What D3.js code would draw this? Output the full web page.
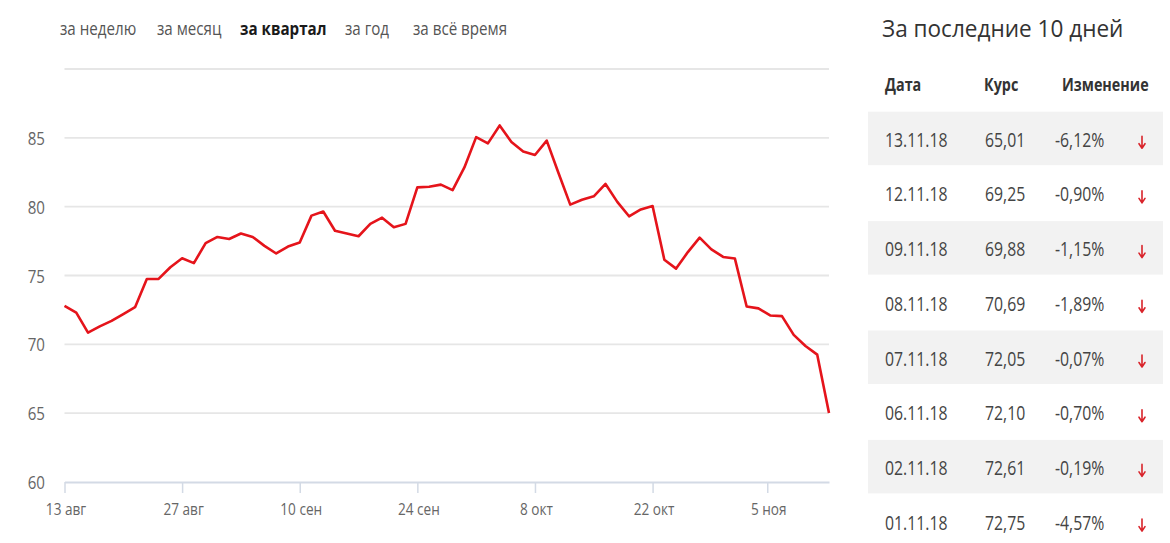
<!DOCTYPE html>
<html>
<head>
<meta charset="utf-8">
<script src="https://cdn.jsdelivr.net/npm/d3@7"></script>
<style>
  html, body { margin: 0; padding: 0; background: #fff; }
  svg { display: block; font-family: "Open Sans", sans-serif; }
</style>
</head>
<body>
<svg id="chart" width="1170" height="543"></svg>
<script>
// ---------- data ----------
const tabs = ["за неделю", "за месяц", "за квартал", "за год", "за всё время"];
const activeTab = "за квартал";

// trading days (weekends and 05.11 holiday skipped)
const dates = [
  "2018-08-13","2018-08-14","2018-08-15","2018-08-16","2018-08-17",
  "2018-08-20","2018-08-21","2018-08-22","2018-08-23","2018-08-24",
  "2018-08-27","2018-08-28","2018-08-29","2018-08-30","2018-08-31",
  "2018-09-03","2018-09-04","2018-09-05","2018-09-06","2018-09-07",
  "2018-09-10","2018-09-11","2018-09-12","2018-09-13","2018-09-14",
  "2018-09-17","2018-09-18","2018-09-19","2018-09-20","2018-09-21",
  "2018-09-24","2018-09-25","2018-09-26","2018-09-27","2018-09-28",
  "2018-10-01","2018-10-02","2018-10-03","2018-10-04","2018-10-05",
  "2018-10-08","2018-10-09","2018-10-10","2018-10-11","2018-10-12",
  "2018-10-15","2018-10-16","2018-10-17","2018-10-18","2018-10-19",
  "2018-10-22","2018-10-23","2018-10-24","2018-10-25","2018-10-26",
  "2018-10-29","2018-10-30","2018-10-31","2018-11-01","2018-11-02",
  "2018-11-06","2018-11-07","2018-11-08","2018-11-09","2018-11-12",
  "2018-11-13"
];
const values = [
  72.8, 72.3, 70.85, 71.3, 71.7,
  72.2, 72.7, 74.75, 74.75, 75.6,
  76.25, 75.9, 77.35, 77.8, 77.65,
  78.05, 77.8, 77.15, 76.6, 77.1,
  77.4, 79.35, 79.65, 78.25, 78.05,
  77.85, 78.75, 79.2, 78.5, 78.75,
  81.4, 81.45, 81.6, 81.2, 82.85,
  85.05, 84.6, 85.9, 84.7, 84.0,
  83.75, 84.8, 82.45, 80.15, 80.5,
  80.75, 81.65, 80.35, 79.3, 79.8,
  80.05, 76.15, 75.5, 76.7, 77.75,
  76.9, 76.35, 76.23, 72.75, 72.61,
  72.10, 72.05, 70.69, 69.88, 69.25,
  65.01
];
const xTickDates = ["2018-08-13","2018-08-27","2018-09-10","2018-09-24","2018-10-08","2018-10-22","2018-11-05"];
const xTickLabels = ["13 авг","27 авг","10 сен","24 сен","8 окт","22 окт","5 ноя"];
const yTicks = [60, 65, 70, 75, 80, 85, 90];
const yLabelTicks = [60, 65, 70, 75, 80, 85];

const tableTitle = "За последние 10 дней";
const tableHeaders = ["Дата", "Курс", "Изменение"];
const tableDates = ["13.11.18","12.11.18","09.11.18","08.11.18","07.11.18","06.11.18","02.11.18","01.11.18"];
const tableRates = ["65,01","69,25","69,88","70,69","72,05","72,10","72,61","72,75"];
const tableChanges = ["-6,12%","-0,90%","-1,15%","-1,89%","-0,07%","-0,70%","-0,19%","-4,57%"];

// ---------- drawing ----------
const svg = d3.select("#chart");
const parse = d3.timeParse("%Y-%m-%d");
const tDates = dates.map(parse);

// fractional trading-day index for any calendar date
function dateIndex(d) {
  const t = +d;
  for (let i = 0; i < tDates.length - 1; i++) {
    const a = +tDates[i], b = +tDates[i + 1];
    if (t >= a && t <= b) return i + (t - a) / (b - a);
  }
  return tDates.length - 1;
}

const x = d3.scaleLinear().domain([0, dates.length - 1]).range([64.5, 829]);
const y = d3.scaleLinear().domain([60, 90]).range([482, 69]);

function sx(sel, k) {
  sel.each(function() {
    const n = d3.select(this);
    const px = +n.attr("data-x"), py = +n.attr("data-y");
    n.attr("transform", `translate(${px},${py}) scale(${k},1)`);
  });
}

// tabs
const tabX = [60, 157, 240, 345, 413];
const tabG = svg.append("g");
tabG.selectAll("text").data(tabs).join("text")
  .attr("data-x", (d, i) => tabX[i]).attr("data-y", 35)
  .attr("font-size", 18.5)
  .attr("font-weight", d => d === activeTab ? 700 : 400)
  .attr("fill", d => d === activeTab ? "#1a1a1a" : "#555")
  .text(d => d)
  .call(sx, 0.82);

// grid
svg.append("g").selectAll("line").data(yTicks.slice(1)).join("line")
  .attr("x1", x(0)).attr("x2", x(dates.length - 1))
  .attr("y1", d => y(d)).attr("y2", d => y(d))
  .attr("stroke", "#e6e6e6").attr("stroke-width", 1.8);

// y labels
svg.append("g").selectAll("text").data(yLabelTicks).join("text")
  .attr("data-x", 45).attr("data-y", d => y(d) + 7)
  .attr("text-anchor", "end")
  .attr("font-size", 18).attr("fill", "#666")
  .text(d => d)
  .call(sx, 0.84);

// x axis
const xAxis = d3.axisBottom(x)
  .tickValues(xTickDates.map(d => dateIndex(parse(d))))
  .tickFormat((d, i) => xTickLabels[i])
  .tickSize(11).tickSizeOuter(0);
const xg = svg.append("g").attr("transform", `translate(0,${y(60)})`).call(xAxis);
xg.select(".domain").attr("stroke", "#d3dae5").attr("stroke-width", 1.8);
xg.selectAll(".tick line").attr("stroke", "#d3dae5").attr("stroke-width", 1.5);
xg.selectAll(".tick text").each(function() {
  const n = d3.select(this);
  n.attr("y", null).attr("dy", null)
   .attr("font-size", 17).attr("fill", "#666").attr("font-family", "Open Sans, sans-serif")
   .attr("data-x", 1).attr("data-y", 33);
}).call(sx, 0.8);

// line
svg.append("path")
  .datum(values)
  .attr("fill", "none")
  .attr("stroke", "#e5141b")
  .attr("stroke-width", 2.6)
  .attr("stroke-linejoin", "round")
  .attr("d", d3.line().x((d, i) => x(i)).y(d => y(d)));

// ---------- table ----------
const tg = svg.append("g");
tg.append("text").attr("data-x", 882).attr("data-y", 37)
  .attr("font-size", 24).attr("fill", "#333").text(tableTitle).call(sx, 0.94);

const colX = [885, 984, 1062];
tg.selectAll("text.hdr").data(tableHeaders).join("text").attr("class", "hdr")
  .attr("data-x", (d, i) => colX[i]).attr("data-y", 91)
  .attr("font-size", 17.5).attr("font-weight", 700).attr("fill", "#333")
  .text(d => d).call(sx, 0.82);

const rowTop = d3.scaleLinear().domain([0, 1]).range([111.7, 166.4]);
const rows = tg.selectAll("g.row").data(tableDates).join("g").attr("class", "row");
rows.filter((d, i) => i % 2 === 0).append("rect")
  .attr("x", 868).attr("width", 295)
  .attr("y", (d, i) => rowTop(i * 2)).attr("height", 53.5)
  .attr("fill", "#f2f2f2");
rows.each(function(d, i) {
  const g = d3.select(this);
  const base = rowTop(i) + 35;
  [tableDates[i], tableRates[i], tableChanges[i]].forEach((t, j) => {
    g.append("text").attr("data-x", [885, 985, 1055][j]).attr("data-y", base)
      .attr("font-size", 20).attr("fill", "#444").text(t).call(sx, 0.79);
  });
  // down arrow
  const ax = 1142, top = base - 10.5, bot = base + 1.5;
  g.append("path")
    .attr("d", `M${ax},${top}L${ax},${bot}M${ax - 3},${bot - 4.5}L${ax},${bot}L${ax + 3},${bot - 4.5}`)
    .attr("fill", "none").attr("stroke", "#d9232a").attr("stroke-width", 1.6)
    .attr("stroke-linecap", "round").attr("stroke-linejoin", "round");
});
</script>
</body>
</html>
